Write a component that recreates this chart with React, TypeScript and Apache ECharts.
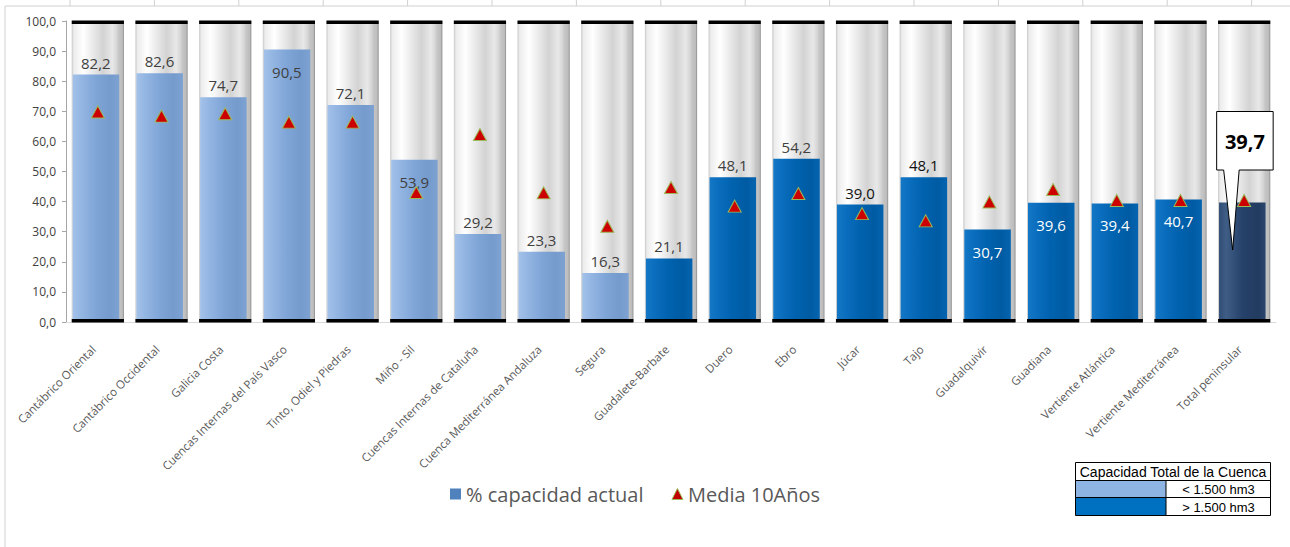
import React, { useEffect, useRef } from "react";
import * as echarts from "echarts";

const categories = [
  "Cantábrico Oriental",
  "Cantábrico Occidental",
  "Galicia Costa",
  "Cuencas Internas del País Vasco",
  "Tinto, Odiel y Piedras",
  "Miño - Sil",
  "Cuencas Internas de Cataluña",
  "Cuenca Mediterránea Andaluza",
  "Segura",
  "Guadalete-Barbate",
  "Duero",
  "Ebro",
  "Júcar",
  "Tajo",
  "Guadalquivir",
  "Guadiana",
  "Vertiente Atlántica",
  "Vertiente Mediterránea",
  "Total peninsular",
];

const capacidadActual = [
  82.2, 82.6, 74.7, 90.5, 72.1, 53.9, 29.2, 23.3, 16.3, 21.1, 48.1, 54.2, 39.0,
  48.1, 30.7, 39.6, 39.4, 40.7, 39.7,
];

const media10Anos = [
  69.8, 68.4, 69.2, 66.4, 66.4, 43.0, 62.3, 42.9, 31.8, 44.7, 38.5, 42.7, 36.0,
  33.6, 39.9, 44.0, 40.4, 40.4, 40.4,
];

// capacity group of each basin: small (< 1.500 hm3), large (> 1.500 hm3), total
const capacityGroup = [
  "small", "small", "small", "small", "small", "small", "small", "small", "small",
  "large", "large", "large", "large", "large", "large", "large", "large", "large",
  "total",
];

const yTicks = [0, 10, 20, 30, 40, 50, 60, 70, 80, 90, 100];

const legendNames = ["% capacidad actual", "Media 10Años"];
const tableTexts = ["Capacidad Total de la Cuenca", "< 1.500 hm3", "> 1.500 hm3"];

// label placement styling (not data)
const insideLabels = new Set([
  "Cuencas Internas del País Vasco",
  "Miño - Sil",
  "Guadalquivir",
  "Guadiana",
  "Vertiente Atlántica",
  "Vertiente Mediterránea",
]);
const blackLabels = new Set(["Júcar", "Tajo"]);

const fmt = (v: number) => v.toFixed(1).replace(".", ",");

const LG = (stops: [number, string][]) =>
  new echarts.graphic.LinearGradient(
    0,
    0,
    1,
    0,
    stops.map(([offset, color]) => ({ offset, color }))
  );

export default function App() {
  const ref = useRef<HTMLDivElement>(null);

  useEffect(() => {
    if (!ref.current) return;
    const chart = echarts.init(ref.current, undefined, { renderer: "svg" });

    const bgGrad = () =>
      LG([
        [0, "#c8c8c8"],
        [0.04, "#ececec"],
        [0.22, "#ffffff"],
        [0.42, "#e8e8e8"],
        [0.6, "#d3d3d3"],
        [0.78, "#e8e8e8"],
        [0.86, "#d6d6d6"],
        [0.9, "#c6c6c6"],
        [0.97, "#bcbcbc"],
        [1, "#8a8a8a"],
      ]);
    const fillGrad: Record<string, () => any> = {
      small: () =>
        LG([
          [0, "#a3c2ea"],
          [0.2, "#93b5e2"],
          [0.5, "#7fa5d7"],
          [0.8, "#759bcd"],
          [1, "#7da2d2"],
        ]),
      large: () =>
        LG([
          [0, "#1478c6"],
          [0.2, "#0a6dbd"],
          [0.5, "#0062ae"],
          [0.8, "#005ba3"],
          [1, "#0564b0"],
        ]),
      total: () =>
        LG([
          [0, "#2e4c74"],
          [0.15, "#3f5d85"],
          [0.5, "#26426a"],
          [0.85, "#223b60"],
          [1, "#2a466e"],
        ]),
    };

    const topTicks: any[] = [];
    for (let x = 70; x < 1290; x += 84.4) {
      topTicks.push({
        type: "line",
        shape: { x1: x, y1: 0, x2: x, y2: 6 },
        style: { stroke: "#d0d0d0", lineWidth: 1 },
        silent: true,
      });
    }

    const option: any = {
      animation: false,
      backgroundColor: "#ffffff",
      grid: { left: 66, right: 14, top: 21, bottom: 225, containLabel: false },
      legend: {
        left: 445,
        top: 479,
        itemWidth: 11,
        itemHeight: 11,
        itemGap: 28,
        textStyle: { fontSize: 20, color: "#595959", fontFamily: "Open Sans" },
        data: [
          { name: legendNames[0], icon: "rect", itemStyle: { color: "#4f81bd" } },
          {
            name: legendNames[1],
            icon: "triangle",
            itemStyle: { color: "#c00000", borderColor: "#9bbb59", borderWidth: 1 },
          },
        ],
      },
      xAxis: {
        type: "category",
        data: categories,
        axisLine: { show: true, lineStyle: { color: "#d9d9d9" } },
        axisTick: { show: false },
        axisLabel: {
          interval: 0,
          rotate: 45,
          margin: 21,
          padding: [0, 6, 0, 0],
          fontSize: 11.5,
          color: "#595959",
          fontFamily: "Open Sans",
        },
      },
      yAxis: {
        type: "value",
        min: yTicks[0],
        max: yTicks[yTicks.length - 1],
        interval: yTicks[1] - yTicks[0],
        axisLine: { show: true, lineStyle: { color: "#a6a6a6" } },
        axisTick: { show: true, length: 4, lineStyle: { color: "#a6a6a6" } },
        splitLine: { show: false },
        axisLabel: {
          formatter: (v: number) => fmt(v),
          margin: 10,
          fontSize: 12,
          color: "#404040",
          fontFamily: "Open Sans",
        },
      },
      series: [
        {
          name: legendNames[0],
          type: "custom",
          z: 2,
          encode: { x: 0, y: 1 },
          data: capacidadActual.map((v, i) => [i, v]),
          renderItem: (params: any, api: any) => {
            const i = params.dataIndex;
            const val = api.value(1);
            const [cx, base] = api.coord([i, 0]);
            const top = api.coord([i, 100])[1];
            const lvl = api.coord([i, val])[1];
            const bw = api.size([1, 0])[0] * 0.82;
            const x0 = cx - bw / 2;
            const grp = capacityGroup[i];
            const name = categories[i];
            const children: any[] = [
              {
                type: "rect",
                shape: { x: x0, y: top, width: bw, height: base - top },
                style: { fill: bgGrad() },
              },
              {
                type: "rect",
                shape: { x: x0 + 1, y: lvl, width: bw - 5.7, height: base - lvl },
                style: { fill: fillGrad[grp]() },
              },
              {
                type: "rect",
                shape: { x: x0, y: top - 0.5, width: bw, height: 3.5 },
                style: { fill: "#000000" },
              },
              {
                type: "rect",
                shape: { x: x0, y: base - 3, width: bw, height: 3.5 },
                style: { fill: "#000000" },
              },
            ];
            if (grp === "total") {
              const bx0 = cx - 27.5;
              const bx1 = cx + 29;
              const by0 = lvl - 91;
              const by1 = lvl - 32.5;
              children.push({
                type: "polygon",
                z2: 20,
                shape: {
                  points: [
                    [bx0, by0],
                    [bx1, by0],
                    [bx1, by1],
                    [cx - 5, by1],
                    [cx - 11.5, lvl + 47.5],
                    [cx - 20.5, by1],
                    [bx0, by1],
                  ],
                },
                style: { fill: "#ffffff", stroke: "#000000", lineWidth: 1 },
              });
              children.push({
                type: "text",
                z2: 21,
                x: (bx0 + bx1) / 2,
                y: (by0 + by1) / 2 + 1,
                style: {
                  text: fmt(val),
                  fill: "#000000",
                  fontSize: 20,
                  fontWeight: "bold",
                  fontFamily: "Open Sans",
                  align: "center",
                  verticalAlign: "middle",
                },
              });
            } else {
              const inside = insideLabels.has(name);
              let color = "#404040";
              if (inside && grp === "large") color = "#ffffff";
              if (blackLabels.has(name)) color = "#111111";
              children.push({
                type: "text",
                z2: 10,
                x: cx - 2,
                y: inside ? lvl + 22 : lvl - 12,
                style: {
                  text: fmt(val),
                  fill: color,
                  fontSize: 15,
                  fontFamily: "Open Sans",
                  align: "center",
                  verticalAlign: "middle",
                },
              });
            }
            return { type: "group", children };
          },
        },
        {
          name: legendNames[1],
          type: "scatter",
          z: 5,
          data: media10Anos,
          symbol: "triangle",
          symbolSize: [13, 12],
          itemStyle: { color: "#cc0000", borderColor: "#9bbb59", borderWidth: 1, opacity: 1 },
        },
      ],
      graphic: [
        {
          type: "line",
          silent: true,
          shape: { x1: 5, y1: 6, x2: 1290, y2: 6 },
          style: { stroke: "#d0d0d0", lineWidth: 1 },
        },
        {
          type: "line",
          silent: true,
          shape: { x1: 5, y1: 6, x2: 5, y2: 547 },
          style: { stroke: "#d0d0d0", lineWidth: 1 },
        },
        ...topTicks,
        {
          type: "group",
          left: 1073,
          top: 462,
          children: [
            {
              type: "rect",
              shape: { x: 0, y: 0, width: 195, height: 53 },
              style: { fill: "#ffffff", stroke: "#000000", lineWidth: 1 },
            },
            {
              type: "rect",
              shape: { x: 0.5, y: 18.5, width: 90, height: 16.5 },
              style: { fill: "#8db4e2" },
            },
            {
              type: "rect",
              shape: { x: 0.5, y: 35.5, width: 90, height: 17 },
              style: { fill: "#0070c0" },
            },
            {
              type: "line",
              shape: { x1: 0, y1: 18, x2: 195, y2: 18 },
              style: { stroke: "#000000", lineWidth: 1 },
            },
            {
              type: "line",
              shape: { x1: 0, y1: 35, x2: 195, y2: 35 },
              style: { stroke: "#000000", lineWidth: 1 },
            },
            {
              type: "line",
              shape: { x1: 90.5, y1: 18, x2: 90.5, y2: 53 },
              style: { stroke: "#000000", lineWidth: 1 },
            },
            {
              type: "text",
              x: 97.5,
              y: 9.5,
              style: {
                text: tableTexts[0],
                fill: "#000000",
                fontSize: 14,
                fontFamily: "Liberation Sans",
                align: "center",
                verticalAlign: "middle",
              },
            },
            {
              type: "text",
              x: 143,
              y: 27,
              style: {
                text: tableTexts[1],
                fill: "#000000",
                fontSize: 13,
                fontFamily: "Liberation Sans",
                align: "center",
                verticalAlign: "middle",
              },
            },
            {
              type: "text",
              x: 143,
              y: 44.5,
              style: {
                text: tableTexts[2],
                fill: "#000000",
                fontSize: 13,
                fontFamily: "Liberation Sans",
                align: "center",
                verticalAlign: "middle",
              },
            },
          ],
        },
      ],
    };

    chart.setOption(option);
    return () => chart.dispose();
  }, []);

  return (
    <div
      ref={ref}
      style={{ position: "fixed", left: 0, top: 0, width: 1290, height: 547 }}
    />
  );
}
